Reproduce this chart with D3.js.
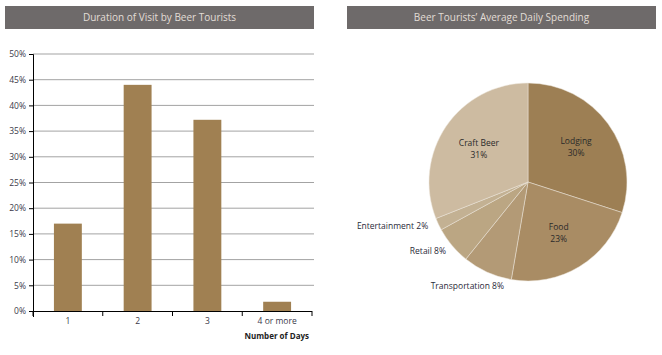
<!DOCTYPE html>
<html><head><meta charset="utf-8">
<script src="https://cdn.jsdelivr.net/npm/d3@7"></script>
<style>body{margin:0;background:#fff}svg{display:block}text{font-family:"Open Sans","Liberation Sans",sans-serif}</style>
</head><body><svg id="c" width="662" height="355"></svg>
<script>
const dayCategories = ["1","2","3","4 or more"];
const dayShares = [17.0, 44.0, 37.2, 1.8];
const yTicks = [0,5,10,15,20,25,30,35,40,45,50];
const spendCategories = ["Lodging","Food","Transportation","Retail","Entertainment","Craft Beer"];
const spendValues = [30, 22.7, 8.1, 6.2, 2.0, 31];
const spendLabels = ["30%","23%","8%","8%","2%","31%"];
const spendColors = ["#9d7f54","#a98c64","#b39a76","#bba683","#c3b193","#cdbba1"];

const svg = d3.select("#c");
const headers = [{x0:5,x1:314,t:"Duration of Visit by Beer Tourists"},{x0:347,x1:656,t:"Beer Tourists\u2019 Average Daily Spending"}];
headers.forEach(h=>{
  svg.append("rect").attr("x",h.x0).attr("y",6).attr("width",h.x1-h.x0).attr("height",23).attr("fill","#6e6a6a");
  svg.append("text").attr("x",(h.x0+h.x1)/2).attr("y",21).attr("text-anchor","middle").attr("font-size",10).attr("fill","#e2ddd6").text(h.t);
});

// bar chart
const x = d3.scaleBand().domain(dayCategories).range([33,312]).paddingInner(0.6).paddingOuter(0.3);
const y = d3.scaleLinear().domain([0,50]).range([311,54]);
const g = svg.append("g");
g.selectAll("line.grid").data(yTicks.filter(d=>d>0)).join("line").attr("class","grid")
  .attr("x1",33).attr("x2",314).attr("y1",d=>y(d)).attr("y2",d=>y(d)).attr("stroke","#a3a3a3").attr("stroke-width",1);
g.selectAll("rect.bar").data(dayShares).join("rect").attr("class","bar")
  .attr("x",(d,i)=>x(dayCategories[i])).attr("width",x.bandwidth())
  .attr("y",d=>y(d)).attr("height",d=>y(0)-y(d)).attr("fill","#a08052");
const ya = g.append("g").attr("transform","translate(33,0)").call(d3.axisLeft(y).tickValues(yTicks).tickSize(4).tickFormat(d=>d+"%"));
ya.select(".domain").attr("stroke","#000").attr("d","M-4,54.5H0.5V317");
ya.selectAll(".tick line").attr("stroke","#000");
ya.selectAll("text").attr("font-size",8.5).attr("fill","#3a3a4a");
const xa = g.append("g").attr("transform","translate(0,311)").call(d3.axisBottom(x).tickSize(0).tickPadding(7));
xa.select(".domain").attr("stroke","#000").attr("d","M33,0.5H312");
xa.selectAll("text").attr("font-size",8.5).attr("fill","#3a3a4a");
const step = x.step();
const edges = dayCategories.map(c=>x(c)-(step-x.bandwidth())/2).concat([x(dayCategories[3])+x.bandwidth()+(step-x.bandwidth())/2]);
g.selectAll("line.xt").data(edges).join("line").attr("x1",d=>d).attr("x2",d=>d).attr("y1",311).attr("y2",316).attr("stroke","#000");
svg.append("text").attr("x",309).attr("y",339).attr("text-anchor","end").attr("font-size",8).attr("font-weight","bold").attr("fill","#222").text("Number of Days");

// pie
const cx=528, cy=182, r=99;
const pie = d3.pie().sort(null).value(d=>d);
const arcs = pie(spendValues);
const arc = d3.arc().innerRadius(0).outerRadius(r);
const pg = svg.append("g").attr("transform",`translate(${cx},${cy})`);
pg.selectAll("path").data(arcs).join("path").attr("d",arc).attr("fill",(d,i)=>spendColors[i]).attr("stroke","#ede6dc").attr("stroke-width",0.5);
const insideArc = d3.arc().innerRadius(r*0.6).outerRadius(r*0.6);
[0,1,5].forEach(i=>{
  const c = insideArc.centroid(arcs[i]);
  const t = pg.append("text").attr("text-anchor","middle").attr("font-size",8.5).attr("fill","#2a2a2a");
  t.append("tspan").attr("x",c[0]).attr("y",c[1]-3).text(spendCategories[i]);
  t.append("tspan").attr("x",c[0]).attr("y",c[1]+9).text(spendLabels[i]);
});
// outside labels (best-fit style placement)
const placement = {2:{rad:r+12,anchor:"middle",dx:-15,dy:6},3:{rad:r+8,anchor:"end",dx:0,dy:3},4:{rad:r+8,anchor:"end",dx:-3,dy:1}};
[2,3,4].forEach(i=>{
  const p = placement[i];
  const c = d3.arc().innerRadius(p.rad).outerRadius(p.rad).centroid(arcs[i]);
  pg.append("text").attr("x",c[0]+p.dx).attr("y",c[1]+p.dy).attr("text-anchor",p.anchor).attr("font-size",8.5).attr("fill","#2a2a3a").text(spendCategories[i]+" "+spendLabels[i]);
});
</script></body></html>
